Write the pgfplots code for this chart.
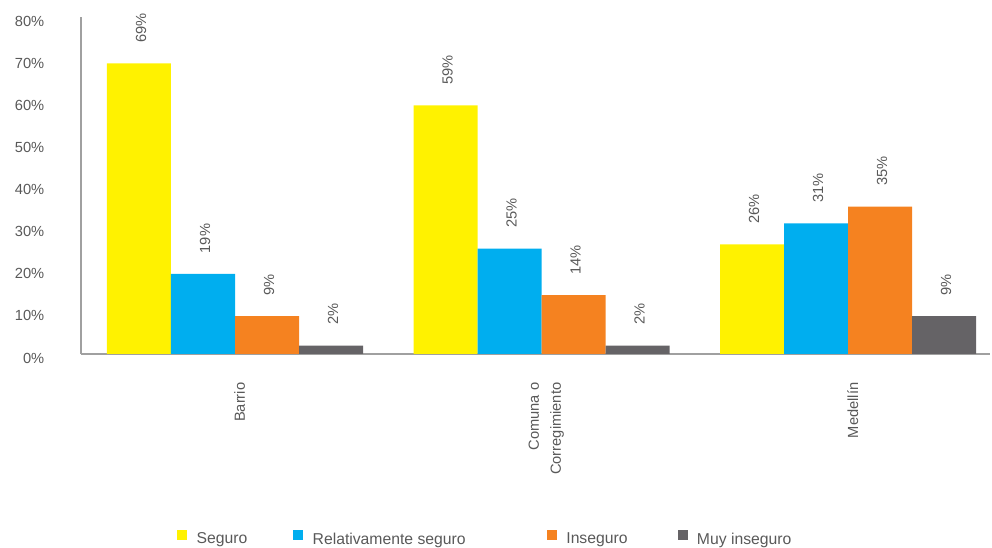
\documentclass[border=0pt]{standalone}
\usepackage{pgfplots}
\pgfplotsset{compat=1.18}
\usepackage{fontspec}
\setmainfont{Liberation Sans}
\definecolor{cY}{HTML}{FFF200}
\definecolor{cB}{HTML}{00AEEF}
\definecolor{cO}{HTML}{F58220}
\definecolor{cG}{HTML}{656366}
\definecolor{txt}{HTML}{595959}
\definecolor{axl}{HTML}{A0A0A0}
\begin{document}
\begin{tikzpicture}
\begin{axis}[
  scale only axis, width=681.75pt, height=252.75pt,
  xmin=-0.5024, xmax=2.463, ymin=0, ymax=80,
  ybar=0pt, bar width=0.2088,
  axis lines=left,
  axis line style={-, draw=axl, line width=2.2pt},
  major tick length=0pt,
  xtick={0,1,2},
  xticklabels={Barrio,{Comuna o\\Corregimiento},Medellín},
  xticklabel style={rotate=90, anchor=east, align=right, font=\fontsize{11}{16.5}\selectfont, yshift=-3.5pt},
  xticklabel shift=18pt,
  ytick={0,10,...,80},
  yticklabel={\pgfmathprintnumber{\tick}\%},
  yticklabel shift=24pt,
  yticklabel style={yshift=-3pt, font=\fontsize{11}{13}\selectfont},
  /pgf/number format/assume math mode=true,
  every tick label/.append style={text=txt},
  nodes near coords={\pgfmathprintnumber{\pgfplotspointmeta}\%},
  every node near coord/.append style={rotate=90, anchor=west, xshift=12pt, yshift=-1.5pt, font=\fontsize{11}{13}\selectfont, text=txt},
  legend style={at={(rel axis cs:0.1056,-0.55)}, anchor=west, draw=none, fill=none, inner sep=0pt,
    font=\fontsize{11.8}{13}\selectfont, text=txt, legend columns=4,
    /tikz/every even column/.append style={column sep=0pt}},
  legend image code/.code={\fill[#1] (0pt,-0.5pt) rectangle (7.5pt,7pt);},
]
\addplot[fill=cY, draw=none] coordinates {(0,69) (1,59) (2,26)};
\addlegendentry{\hspace*{5pt}Seguro\hspace*{32.5pt}}
\addplot[fill=cB, draw=none] coordinates {(0,19) (1,25) (2,31)};
\addlegendentry{\hspace*{5pt}Relativamente seguro\hspace*{59pt}}
\addplot[fill=cO, draw=none] coordinates {(0,9) (1,14) (2,35)};
\addlegendentry{\hspace*{5pt}Inseguro\hspace*{35.5pt}}
\addplot[fill=cG, draw=none] coordinates {(0,2) (1,2) (2,9)};
\addlegendentry{\hspace*{5pt}Muy inseguro}
\end{axis}
\pgfresetboundingbox
\path[use as bounding box] (-60.75pt,-145.5pt) rectangle (683.25pt,265.5pt);
\end{tikzpicture}
\end{document}
